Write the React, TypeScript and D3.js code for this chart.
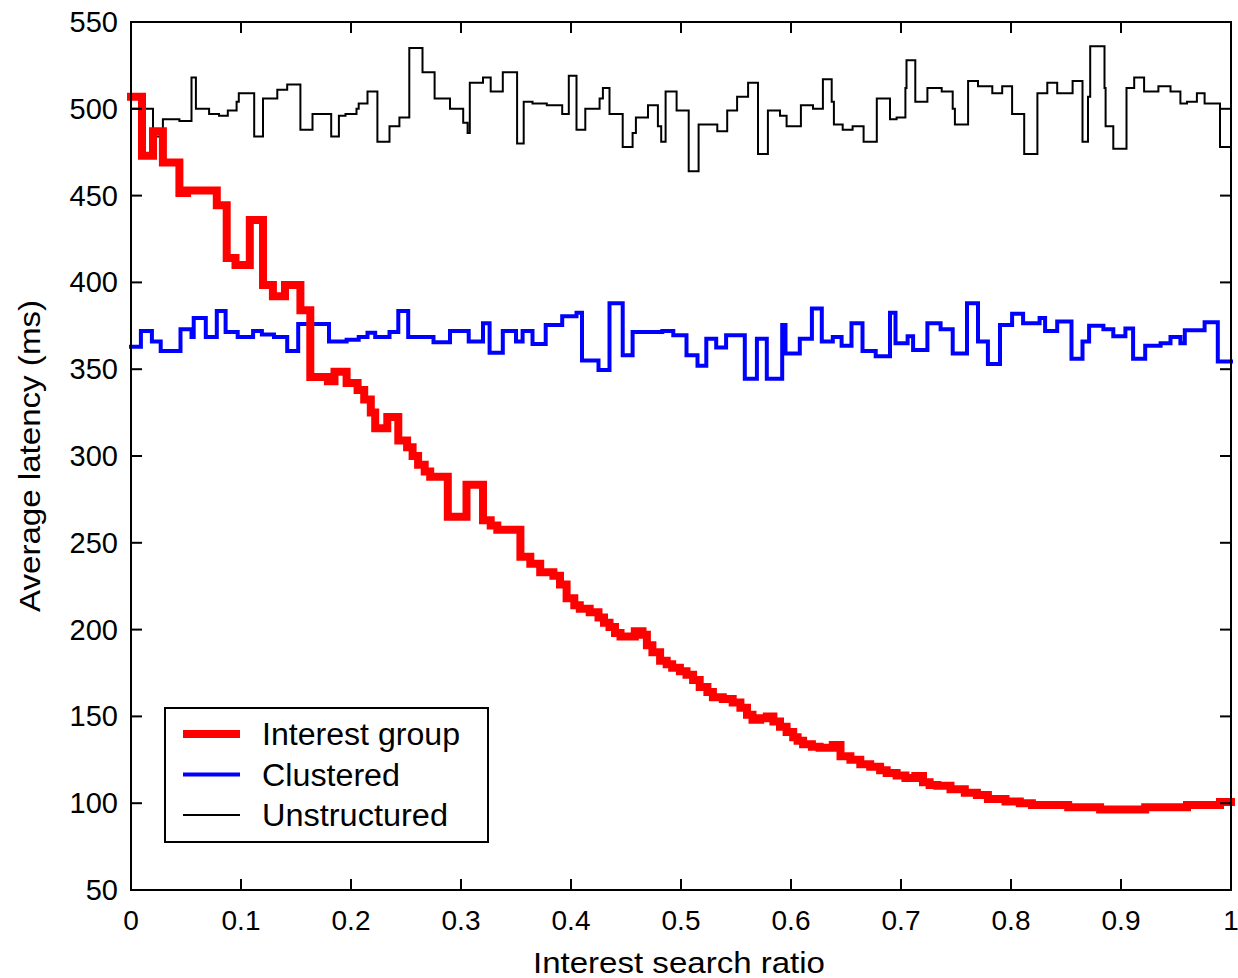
import React from "react";
import * as d3 from "d3";

// [x, value] step breakpoints (stairs plots)
const interestGroup: [number, number][] = [
  [0, 507], [0.01, 473], [0.02, 487], [0.029, 469], [0.044, 451.5], [0.051, 453],
  [0.078, 444.5], [0.087, 414], [0.095, 410], [0.108, 436], [0.12, 398.5], [0.129, 392],
  [0.14, 398.5], [0.154, 384], [0.163, 345.5], [0.179, 343], [0.185, 348.5], [0.196, 342],
  [0.206, 338], [0.212, 332.5], [0.218, 325], [0.222, 316], [0.233, 322.5], [0.243, 309],
  [0.251, 305], [0.256, 300], [0.261, 295], [0.267, 291], [0.272, 288], [0.288, 265],
  [0.305, 283.5], [0.32, 263], [0.327, 260], [0.333, 257.5], [0.354, 242], [0.363, 238],
  [0.372, 233], [0.384, 231], [0.39, 226], [0.396, 218], [0.403, 214], [0.408, 212],
  [0.417, 210], [0.425, 207], [0.43, 204], [0.435, 201.5], [0.44, 198], [0.445, 196],
  [0.452, 196], [0.458, 199], [0.465, 197], [0.469, 191], [0.474, 187], [0.481, 182],
  [0.487, 180], [0.492, 178], [0.499, 176], [0.505, 174], [0.511, 171], [0.517, 167],
  [0.524, 164], [0.529, 161], [0.538, 160], [0.547, 158], [0.554, 155], [0.56, 151],
  [0.565, 148], [0.572, 149], [0.578, 150], [0.584, 147], [0.59, 144], [0.596, 141],
  [0.602, 138], [0.606, 136], [0.611, 134], [0.619, 132.5], [0.626, 132], [0.638, 133.5],
  [0.645, 127], [0.654, 125], [0.663, 122.5], [0.672, 121], [0.681, 119], [0.687, 117.4],
  [0.696, 116], [0.704, 114.5], [0.713, 115.7], [0.72, 112], [0.726, 110.5], [0.733, 110],
  [0.745, 108], [0.758, 106], [0.769, 104.7], [0.779, 102.4], [0.795, 101], [0.808, 100],
  [0.819, 99], [0.852, 97.6], [0.881, 96.3], [0.922, 97.6], [0.96, 99], [0.99, 100.7],
  [1, 100.7],
];

const clustered: [number, number][] = [
  [0, 363], [0.009, 372], [0.019, 366], [0.027, 360.5], [0.045, 373], [0.055, 368.5],
  [0.057, 379.5], [0.068, 368.5], [0.078, 383.5], [0.086, 371.5], [0.097, 368.5], [0.111, 372],
  [0.119, 370], [0.13, 368.5], [0.142, 360.5], [0.152, 376], [0.18, 366], [0.196, 367],
  [0.207, 368.5], [0.215, 371], [0.222, 368.5], [0.235, 371.5], [0.243, 383.5], [0.252, 368.5],
  [0.275, 365.5], [0.29, 372], [0.307, 366], [0.32, 376.5], [0.326, 359.5], [0.338, 372],
  [0.35, 366], [0.356, 372], [0.365, 364.5], [0.377, 375.5], [0.392, 380.5], [0.405, 382.5],
  [0.41, 355], [0.425, 349.5], [0.435, 388], [0.447, 358], [0.456, 371.5], [0.483, 372],
  [0.493, 369.5], [0.505, 358], [0.515, 352], [0.523, 367.5], [0.532, 362.5], [0.541, 369.5],
  [0.558, 344.5], [0.569, 367.5], [0.578, 344.5], [0.592, 375.5], [0.595, 359], [0.608, 367.5],
  [0.619, 385], [0.628, 366], [0.638, 368.5], [0.646, 363.5], [0.655, 376.5], [0.665, 360.5],
  [0.677, 357.5], [0.69, 382.5], [0.695, 365], [0.706, 369], [0.711, 361], [0.724, 376.5],
  [0.736, 373], [0.747, 359], [0.76, 388], [0.77, 366], [0.779, 353], [0.79, 375.5],
  [0.801, 382], [0.811, 376.5], [0.826, 379.5], [0.831, 372], [0.842, 377.5], [0.855, 356],
  [0.865, 366], [0.871, 375], [0.884, 373], [0.893, 369], [0.904, 373.5], [0.911, 356],
  [0.922, 363.5], [0.936, 365], [0.945, 368.5], [0.954, 365], [0.958, 372.5], [0.976, 377],
  [0.988, 354.5], [1, 354.5],
];

const unstructured: [number, number][] = [
  [0, 500], [0.02, 484], [0.029, 494], [0.044, 493], [0.055, 518], [0.059, 500],
  [0.071, 497], [0.08, 496], [0.088, 499], [0.096, 504], [0.098, 509], [0.112, 484],
  [0.12, 506], [0.133, 511], [0.142, 514], [0.154, 488], [0.165, 497], [0.182, 484],
  [0.189, 496], [0.195, 497], [0.205, 500], [0.207, 503], [0.215, 510], [0.224, 481],
  [0.235, 490], [0.244, 495], [0.253, 535], [0.265, 521], [0.276, 506], [0.29, 500],
  [0.302, 492], [0.306, 486], [0.308, 515], [0.32, 518], [0.327, 510], [0.338, 521],
  [0.351, 480], [0.357, 504], [0.365, 503], [0.378, 502], [0.392, 497], [0.398, 519],
  [0.405, 488], [0.413, 500], [0.426, 506], [0.429, 512], [0.435, 497], [0.447, 478],
  [0.456, 486], [0.459, 495], [0.47, 502], [0.479, 490], [0.482, 481], [0.486, 510],
  [0.496, 499], [0.507, 464], [0.516, 491], [0.533, 487], [0.542, 499], [0.551, 507],
  [0.561, 515], [0.57, 474], [0.579, 499], [0.59, 496], [0.596, 490], [0.609, 502],
  [0.62, 500], [0.629, 517], [0.637, 504], [0.639, 491], [0.647, 488], [0.656, 490],
  [0.666, 481], [0.678, 506], [0.69, 494], [0.696, 495], [0.704, 512], [0.705, 528],
  [0.713, 504], [0.724, 512], [0.737, 510], [0.747, 500], [0.749, 491], [0.761, 516],
  [0.77, 513], [0.783, 509], [0.792, 513], [0.801, 497], [0.812, 474], [0.824, 509],
  [0.833, 515], [0.842, 509], [0.856, 516], [0.865, 481], [0.87, 507], [0.872, 536],
  [0.885, 512], [0.886, 490], [0.893, 477], [0.905, 512], [0.912, 518], [0.921, 510],
  [0.934, 513], [0.945, 510], [0.954, 503], [0.96, 504], [0.969, 509], [0.976, 503],
  [0.99, 478], [1, 500],
];

const xTicks = [0, 0.1, 0.2, 0.3, 0.4, 0.5, 0.6, 0.7, 0.8, 0.9, 1];
const yTicks = [50, 100, 150, 200, 250, 300, 350, 400, 450, 500, 550];
const xTickLabels = ["0", "0.1", "0.2", "0.3", "0.4", "0.5", "0.6", "0.7", "0.8", "0.9", "1"];
const legendLabels = ["Interest group", "Clustered", "Unstructured"];
const legendWidths = [198, 138, 186];
const seriesColors = ["#ff0000", "#0000ff", "#000000"];
const seriesWidths = [8, 4, 2];

const W = 1238;
const H = 978;
const L = 131, R = 1231, T = 22, B = 890;
const FONT = "'Liberation Sans', Arial, sans-serif";

export default function App() {
  const x = d3.scaleLinear().domain([0, 1]).range([L, R]);
  const y = d3.scaleLinear().domain([50, 550]).range([B, T]);
  const line = d3
    .line<[number, number]>()
    .x((d) => x(d[0]))
    .y((d) => y(d[1]))
    .curve(d3.curveStepAfter);
  const series = [interestGroup, clustered, unstructured];
  const tick = 11;
  return (
    <svg
      width={W}
      height={H}
      style={{ position: "absolute", left: 0, top: 0, background: "#fff" }}
      fontFamily={FONT}
    >
      <rect x={0} y={0} width={W} height={H} fill="#fff" />
      {[2, 1, 0].map((i) => (
        <path
          key={i}
          d={line(series[i]) || ""}
          fill="none"
          stroke={seriesColors[i]}
          strokeWidth={seriesWidths[i]}
          strokeLinejoin="miter"
          strokeLinecap="square"
        />
      ))}
      <rect x={L} y={T} width={R - L} height={B - T} fill="none" stroke="#000" strokeWidth={2} />
      {xTicks.map((t, i) => (
        <g key={"xt" + i}>
          <line x1={x(t)} x2={x(t)} y1={B} y2={B - tick} stroke="#000" strokeWidth={2} />
          <line x1={x(t)} x2={x(t)} y1={T} y2={T + tick} stroke="#000" strokeWidth={2} />
          <text x={x(t)} y={930} textAnchor="middle" fontSize={28} fill="#000">
            {xTickLabels[i]}
          </text>
        </g>
      ))}
      {yTicks.map((t, i) => (
        <g key={"yt" + i}>
          <line x1={L} x2={L + tick} y1={y(t)} y2={y(t)} stroke="#000" strokeWidth={2} />
          <line x1={R} x2={R - tick} y1={y(t)} y2={y(t)} stroke="#000" strokeWidth={2} />
          <text x={118} y={y(t) + 10} textAnchor="end" fontSize={29} fill="#000">
            {t}
          </text>
        </g>
      ))}
      <text
        x={(L + R) / 2 - 2}
        y={973}
        textAnchor="middle"
        fontSize={30}
        fill="#000"
        textLength={292}
        lengthAdjust="spacingAndGlyphs"
      >
        Interest search ratio
      </text>
      <text
        transform={`translate(40, 456) rotate(-90)`}
        textAnchor="middle"
        fontSize={30}
        fill="#000"
        textLength={312}
        lengthAdjust="spacingAndGlyphs"
      >
        Average latency (ms)
      </text>
      <rect x={165} y={708} width={323} height={134} fill="#fff" stroke="#000" strokeWidth={2} />
      {legendLabels.map((lab, i) => {
        const cy = 734 + i * 40.5;
        return (
          <g key={"lg" + i}>
            <line
              x1={183}
              x2={240}
              y1={cy}
              y2={cy}
              stroke={seriesColors[i]}
              strokeWidth={seriesWidths[i]}
            />
            <text
              x={262}
              y={cy + 11}
              fontSize={31}
              fill="#000"
              textLength={legendWidths[i]}
              lengthAdjust="spacingAndGlyphs"
            >
              {lab}
            </text>
          </g>
        );
      })}
    </svg>
  );
}
